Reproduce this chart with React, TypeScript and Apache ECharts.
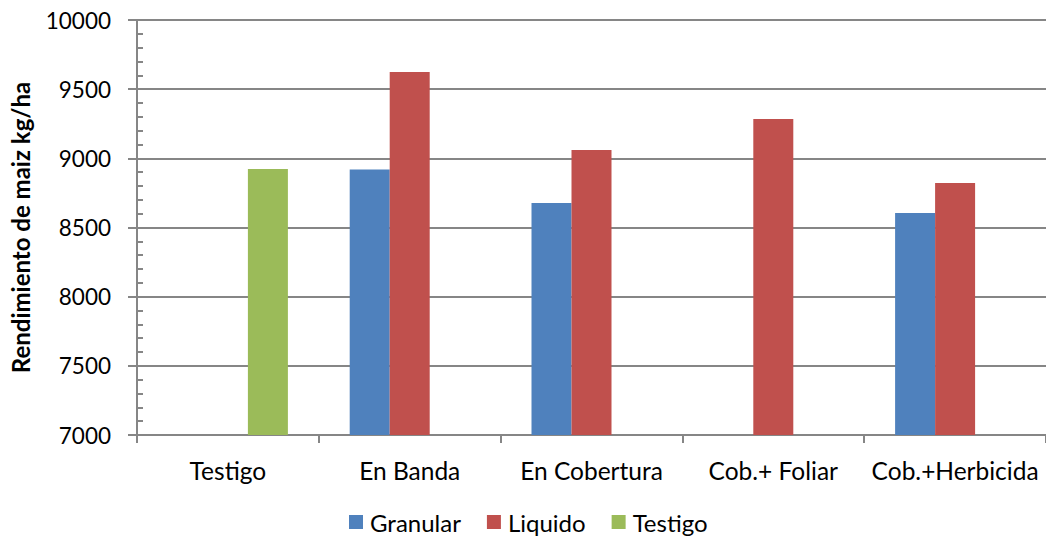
import React, { useEffect, useRef } from "react";
import * as echarts from "echarts";

const categories = ["Testigo", "En Banda", "En Cobertura", "Cob.+ Foliar", "Cob.+Herbicida"];
const granular = [null, 8920, 8677, null, 8605];
const liquido = [null, 9624, 9060, 9284, 8822];
const testigo = [8923, null, null, null, null];
const yMin = 7000;
const yMax = 10000;
const yStep = 500;

const FONT = "Lato";

export default function App() {
  const ref = useRef<HTMLDivElement>(null);
  useEffect(() => {
    const chart = echarts.init(ref.current!, null, { renderer: "svg" });
    const axisColor = "#868686";
    chart.setOption({
      animation: false,
      backgroundColor: "#ffffff",
      textStyle: { fontFamily: FONT },
      grid: { left: 137, top: 20, width: 915, height: 415 },
      legend: {
        left: 344,
        top: 505,
        itemWidth: 14,
        itemHeight: 14,
        itemGap: 26,
        icon: "rect",
        textStyle: { fontFamily: FONT, fontSize: 24, color: "#000", padding: [0, 0, 0, 2] },
        data: ["Granular", "Liquido", "Testigo"],
      },
      xAxis: {
        type: "category",
        data: categories,
        axisLine: { lineStyle: { color: axisColor, width: 2 } },
        axisTick: { show: true, length: 8, lineStyle: { color: axisColor, width: 2 } },
        axisLabel: { fontFamily: FONT, fontSize: 24.5, color: "#000", margin: 23, interval: 0 },
      },
      yAxis: [
        {
          type: "value",
          min: yMin,
          max: yMax,
          interval: yStep,
          name: "Rendimiento de maiz kg/ha",
          nameLocation: "middle",
          nameGap: 105,
          nameTextStyle: { fontFamily: FONT, fontSize: 24, fontWeight: "bold", color: "#000" },
          axisLine: { show: true, lineStyle: { color: axisColor, width: 2 } },
          axisTick: { show: true, length: 9, lineStyle: { color: axisColor, width: 2 } },
          axisLabel: {
            fontFamily: FONT,
            fontSize: 22.5,
            color: "#000",
            margin: 26,
            formatter: (v: number) => String(v),
          },
          splitLine: { show: true, lineStyle: { color: axisColor, width: 2 } },
        },
        {
          type: "value",
          min: yMin,
          max: yMax,
          interval: yStep,
          position: "left",
          axisLine: { show: false },
          axisTick: { show: false, inside: true },
          axisLabel: { show: false },
          splitLine: { show: false },
          minorTick: { show: true, splitNumber: 5, length: 6, lineStyle: { color: axisColor, width: 2 } },
        },
      ],
      series: [
        {
          name: "Granular",
          type: "bar",
          data: granular,
          barWidth: 40,
          barGap: "0%",
          itemStyle: { color: "#4F81BD" },
        },
        {
          name: "Liquido",
          type: "bar",
          data: liquido,
          barWidth: 40,
          barGap: "0%",
          itemStyle: { color: "#C0504D" },
        },
        {
          name: "Testigo",
          type: "bar",
          data: testigo,
          barWidth: 40,
          barGap: "0%",
          itemStyle: { color: "#9BBB59" },
        },
      ],
    });
    return () => chart.dispose();
  }, []);
  return (
    <div
      ref={ref}
      style={{ position: "fixed", left: 0, top: 0, width: 1046, height: 537, background: "#fff" }}
    />
  );
}
